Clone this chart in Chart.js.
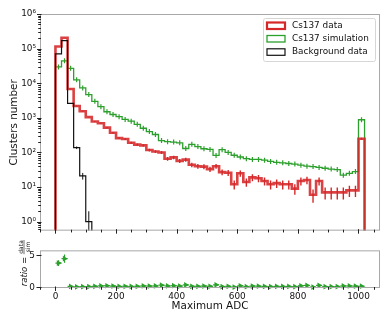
<!DOCTYPE html>
<html lang="en">
<head>
  <meta charset="UTF-8">
  <title>Cs137 – Maximum ADC</title>
  <script src="https://cdn.jsdelivr.net/npm/chart.js"></script>
  <style>
    * { margin: 0; padding: 0; box-sizing: border-box; }
    body { background: #fff; width: 390px; height: 323px; overflow: hidden; position: relative; }
    .panel { position: absolute; left: 0; }
    #mainChart { top: 0; }
    #ratioChart { top: 240px; }
  </style>
</head>
<body>

<canvas id="mainChart" class="panel" width="390" height="240"></canvas>
<canvas id="ratioChart" class="panel" width="390" height="83"></canvas>

<script>
  // ---- data ----
  const adcEdges = [0, 20, 40, 60, 80, 100, 120, 140, 160, 180, 200, 220, 240, 260, 280, 300, 320, 340,
    360, 380, 400, 420, 440, 460, 480, 500, 520, 540, 560, 580, 600, 620, 640, 660, 680, 700, 720, 740,
    760, 780, 800, 820, 840, 860, 880, 900, 920, 940, 960, 980, 1000, 1020];

  const cs137Data = [115000, 205000, 6800, 2200, 1550, 1050, 780, 700, 520, 370, 260, 245, 190, 168,
    160, 118, 106, 100, 66, 72, 57, 62, 44, 40, 39, 33, 40, 27, 26, 12, 25, 14, 19, 18, 15, 12, 13, 12,
    12, 9, 15, 16, 6, 15, 7, 7, 7, 7, 8, 8, 250];

  const cs137Sim = [29500, 44500, 27000, 12500, 7300, 4700, 3000, 2100, 1500, 1250, 1080, 900, 800, 650,
    500, 400, 330, 220, 205, 200, 190, 130, 172, 148, 128, 122, 82, 120, 100, 83, 74, 66, 63, 63, 60, 55,
    52, 50, 48, 46, 43, 40, 39, 37, 35, 33, 32, 22, 25, 28, 880];

  const backgroundData = [70000, 170000, 2600, 137, 21, 1, 0, 0, 0, 0, 0, 0, 0, 0, 0, 0, 0, 0, 0, 0, 0,
    0, 0, 0, 0, 0, 0, 0, 0, 0, 0, 0, 0, 0, 0, 0, 0, 0, 0, 0, 0, 0, 0, 0, 0, 0, 0, 0, 0, 0, 0];

  const ratioValues = [3.9, 4.6, 0.25, 0.18, 0.21, 0.22, 0.26, 0.33, 0.35, 0.30, 0.24, 0.27, 0.24, 0.26,
    0.32, 0.30, 0.32, 0.45, 0.32, 0.36, 0.30, 0.48, 0.26, 0.27, 0.30, 0.27, 0.49, 0.23, 0.26, 0.14, 0.34,
    0.21, 0.30, 0.29, 0.25, 0.22, 0.25, 0.24, 0.25, 0.20, 0.35, 0.40, 0.15, 0.41, 0.20, 0.21, 0.22, 0.32,
    0.32, 0.29, 0.28];

  const ratioErrors = [0.45, 0.65, 0.02, 0.02, 0.02, 0.02, 0.02, 0.03, 0.03, 0.03, 0.03, 0.03, 0.03, 0.03,
    0.04, 0.04, 0.04, 0.06, 0.05, 0.05, 0.05, 0.07, 0.05, 0.05, 0.06, 0.06, 0.09, 0.05, 0.06, 0.05, 0.08,
    0.06, 0.08, 0.08, 0.07, 0.07, 0.08, 0.08, 0.08, 0.07, 0.10, 0.11, 0.07, 0.12, 0.08, 0.08, 0.09, 0.13,
    0.12, 0.11, 0.03];

  const seriesLabels = ['Cs137 data', 'Cs137 simulation', 'Background data'];
  const xTicks = [0, 200, 400, 600, 800, 1000];
  const yTicks = [1, 10, 100, 1000, 10000, 100000, 1000000];
  const ratioTicks = [0, 5];

  // ---- style ----
  const RED = '#d62728', GREEN = '#2ca02c', BLACK = '#111';
  const SPINE = '#a8a8a8', TICK = '#222';
  const X_MIN = -51, X_MAX = 1071;
  const Y_MIN = 0.55, Y_MAX = 1e6;
  const FLOOR = 1e-3;

  Chart.defaults.font.family = 'DejaVu Sans';
  Chart.defaults.color = '#111';

  const binCenters = cs137Data.map((_, i) => (adcEdges[i] + adcEdges[i + 1]) / 2);

  // step outline: up from the floor, one point per bin left edge, down at the last edge
  function histPoints(values) {
    const pts = [{ x: adcEdges[0], y: FLOOR }];
    values.forEach((v, i) => pts.push({ x: adcEdges[i], y: v > 0 ? v : FLOOR }));
    pts.push({ x: adcEdges[adcEdges.length - 1], y: FLOOR });
    return pts;
  }

  function sup(n) {
    const s = '⁰¹²³⁴⁵⁶⁷⁸⁹';
    return String(n).split('').map(d => s[+d]).join('');
  }

  function seg(ctx, x1, y1, x2, y2) {
    ctx.beginPath(); ctx.moveTo(x1, y1); ctx.lineTo(x2, y2); ctx.stroke();
  }

  function drawFrame(chart) {
    const { ctx, chartArea: a } = chart;
    ctx.strokeStyle = SPINE; ctx.lineWidth = 1;
    ctx.strokeRect(a.left + 0.5, a.top + 0.5, a.right - a.left - 1, a.bottom - a.top - 1);
  }

  function drawXTicks(chart) {
    const { ctx, chartArea: a } = chart, sx = chart.scales.x;
    ctx.strokeStyle = TICK; ctx.lineWidth = 1;
    for (let v = -50; v <= 1050; v += 50) {
      const x = Math.round(sx.getPixelForValue(v)) + 0.5;
      if (xTicks.includes(v)) seg(ctx, x, a.bottom - 1.5, x, a.bottom + 3);
      else seg(ctx, x, a.bottom - 1, x, a.bottom + 1.8);
    }
  }

  // ---- main panel ----
  const mainPlugin = {
    id: 'mainDecor',
    afterDatasetsDraw(chart) {
      const { ctx, chartArea: a, scales: { x, y } } = chart;
      ctx.save();
      ctx.beginPath(); ctx.rect(a.left, a.top, a.right - a.left, a.bottom - a.top); ctx.clip();
      // simulation crosses
      ctx.strokeStyle = GREEN; ctx.lineWidth = 1.2;
      cs137Sim.forEach((v, i) => {
        if (v <= 0) return;
        const px = x.getPixelForValue(binCenters[i]), py = y.getPixelForValue(v);
        seg(ctx, px, py - 2.5, px, py + 2.5);
      });
      // poisson bars on data
      [[cs137Data, RED, 1.4], [backgroundData, BLACK, 1]].forEach(([vals, col, lw]) => {
        ctx.strokeStyle = col; ctx.lineWidth = lw;
        vals.forEach((v, i) => {
          if (v <= 0) return;
          const e = Math.sqrt(v);
          const px = x.getPixelForValue(binCenters[i]);
          const lo = v - e > 0 ? y.getPixelForValue(v - e) : a.bottom + 5;
          seg(ctx, px, y.getPixelForValue(v + e), px, lo);
        });
      });
      ctx.restore();
    },
    afterDraw(chart) {
      const { ctx, chartArea: a } = chart, sy = chart.scales.y;
      ctx.save();
      drawFrame(chart);
      drawXTicks(chart);
      // log ticks on the left
      ctx.strokeStyle = TICK; ctx.lineWidth = 1;
      for (let p = -1; p <= 5; p++) {
        for (let k = 1; k <= 9; k++) {
          const v = k * Math.pow(10, p);
          if (v < Y_MIN || v > Y_MAX) continue;
          const yy = Math.round(sy.getPixelForValue(v)) + 0.5;
          if (k === 1) seg(ctx, a.left - 3, yy, a.left + 1.5, yy);
          else seg(ctx, a.left - 1.8, yy, a.left + 1, yy);
        }
      }
      const top = Math.round(sy.getPixelForValue(Y_MAX)) + 0.5;
      seg(ctx, a.left - 3, top, a.left + 1.5, top);

      // legend
      const lx = 263.5, ly = 18.5, lw = 112, lh = 43;
      ctx.fillStyle = 'rgba(255,255,255,0.85)';
      ctx.strokeStyle = '#d6d6d6'; ctx.lineWidth = 1;
      ctx.beginPath(); ctx.roundRect(lx, ly, lw, lh, 2); ctx.fill(); ctx.stroke();
      const rows = [[RED, 2.2, 25.7], [GREEN, 1.3, 38.7], [BLACK, 1.2, 52]];
      rows.forEach(([col, w, cy], i) => {
        ctx.fillStyle = '#fff';
        ctx.fillRect(267, cy - 3.2, 18, 6.5);
        ctx.strokeStyle = col; ctx.lineWidth = w;
        ctx.strokeRect(267, cy - 3.2, 18, 6.5);
        ctx.fillStyle = '#111';
        ctx.font = '8.9px "DejaVu Sans"';
        ctx.textBaseline = 'middle'; ctx.textAlign = 'left';
        ctx.fillText(seriesLabels[i], 292, cy);
      });
      ctx.restore();
    }
  };

  new Chart(document.getElementById('mainChart'), {
    type: 'line',
    data: {
      datasets: [
        { label: seriesLabels[2], data: histPoints(backgroundData), borderColor: BLACK, borderWidth: 1.2, order: 0 },
        { label: seriesLabels[0], data: histPoints(cs137Data), borderColor: 'rgba(214,39,40,0.88)', borderWidth: 2.6, order: 1 },
        { label: seriesLabels[1], data: histPoints(cs137Sim), borderColor: GREEN, borderWidth: 1.3, order: 2 }
      ]
    },
    options: {
      responsive: false,
      animation: false,
      devicePixelRatio: 1,
      layout: { padding: { top: 14, right: 10, bottom: 8, left: 0 } },
      elements: { point: { radius: 0 }, line: { stepped: 'before', fill: false, tension: 0 } },
      plugins: { legend: { display: false }, tooltip: { enabled: false } },
      scales: {
        x: { type: 'linear', min: X_MIN, max: X_MAX, display: false },
        y: {
          type: 'logarithmic', min: Y_MIN, max: Y_MAX,
          grid: { display: false, drawTicks: false },
          border: { display: false },
          afterBuildTicks: s => { s.ticks = yTicks.map(v => ({ value: v })); },
          afterFit: s => { s.width = 40; },
          ticks: {
            autoSkip: false, padding: 4,
            font: { size: 8.9 },
            callback: v => '10' + sup(Math.round(Math.log10(v)))
          },
          title: {
            display: true, text: 'Clusters number',
            font: { size: 10.4 }, padding: { top: 8, bottom: 0 }
          }
        }
      }
    },
    plugins: [mainPlugin]
  });

  // ---- ratio panel ----
  const ratioPlugin = {
    id: 'ratioDecor',
    beforeDatasetsDraw(chart) {
      const { ctx, scales: { x, y } } = chart;
      ctx.save();
      ctx.strokeStyle = GREEN; ctx.lineWidth = 1.2;
      ratioValues.forEach((r, i) => {
        const px = x.getPixelForValue(binCenters[i]), py = y.getPixelForValue(r);
        seg(ctx, x.getPixelForValue(adcEdges[i]), py, x.getPixelForValue(adcEdges[i + 1]), py);
        seg(ctx, px, y.getPixelForValue(r - ratioErrors[i]), px, y.getPixelForValue(r + ratioErrors[i]));
      });
      ctx.restore();
    },
    afterDraw(chart) {
      const { ctx, chartArea: a } = chart, sy = chart.scales.y;
      ctx.save();
      drawFrame(chart);
      drawXTicks(chart);
      ctx.strokeStyle = TICK; ctx.lineWidth = 1;
      ratioTicks.forEach(v => {
        const yy = Math.round(sy.getPixelForValue(v)) - 0.5;
        seg(ctx, a.left - 3.5, yy, a.left + 1.5, yy);
      });

      // y title: ratio = data / sim
      ctx.translate(0, 23);
      ctx.rotate(-Math.PI / 2);
      ctx.fillStyle = '#111';
      ctx.textBaseline = 'alphabetic'; ctx.textAlign = 'left';
      const f1 = 'italic 8.5px "DejaVu Sans"', f2 = '8.5px "DejaVu Sans"', f3 = '6px "DejaVu Sans"';
      ctx.font = f1; const wRatio = ctx.measureText('ratio').width;
      ctx.font = f2; const wEq = ctx.measureText(' = ').width;
      ctx.font = f3; const wFrac = Math.max(ctx.measureText('data').width, ctx.measureText('sim').width) + 1;
      let cx = -(wRatio + wEq + wFrac) / 2;
      const base = 27;
      ctx.font = f1; ctx.fillText('ratio', cx, base); cx += wRatio;
      ctx.font = f2; ctx.fillText(' = ', cx, base); cx += wEq;
      const bar = 24;
      ctx.strokeStyle = '#111'; ctx.lineWidth = 0.6;
      seg(ctx, cx, bar, cx + wFrac, bar);
      ctx.font = f3; ctx.textAlign = 'center';
      ctx.fillText('data', cx + wFrac / 2, bar - 1.3);
      ctx.fillText('sim', cx + wFrac / 2, bar + 5.6);
      ctx.restore();
    }
  };

  new Chart(document.getElementById('ratioChart'), {
    type: 'scatter',
    data: {
      datasets: [{
        label: 'ratio',
        data: ratioValues.map((r, i) => ({ x: binCenters[i], y: r })),
        pointStyle: 'triangle', rotation: 90, pointRadius: 3.3,
        backgroundColor: GREEN, borderColor: GREEN, borderWidth: 0,
        clip: false
      }]
    },
    options: {
      responsive: false,
      animation: false,
      devicePixelRatio: 1,
      layout: { padding: { top: 4, right: 10, bottom: 0, left: 0 } },
      plugins: { legend: { display: false }, tooltip: { enabled: false } },
      scales: {
        x: {
          type: 'linear', min: X_MIN, max: X_MAX,
          grid: { display: false, drawTicks: false },
          border: { display: false },
          afterBuildTicks: s => { s.ticks = xTicks.map(v => ({ value: v })); },
          afterFit: s => { s.height = 35; },
          ticks: {
            autoSkip: false, maxRotation: 0, padding: 3, font: { size: 8.9 },
            callback: v => String(v)
          },
          title: {
            display: true, text: 'Maximum ADC',
            font: { size: 10.4 }, padding: { top: 0, bottom: 10 }
          }
        },
        y: {
          min: 0, max: 5.9,
          grid: { display: false, drawTicks: false },
          border: { display: false },
          afterBuildTicks: s => { s.ticks = ratioTicks.map(v => ({ value: v })); },
          afterFit: s => { s.width = 40; },
          ticks: { autoSkip: false, padding: 5, font: { size: 8.9 } }
        }
      }
    },
    plugins: [ratioPlugin]
  });
</script>

</body>
</html>
